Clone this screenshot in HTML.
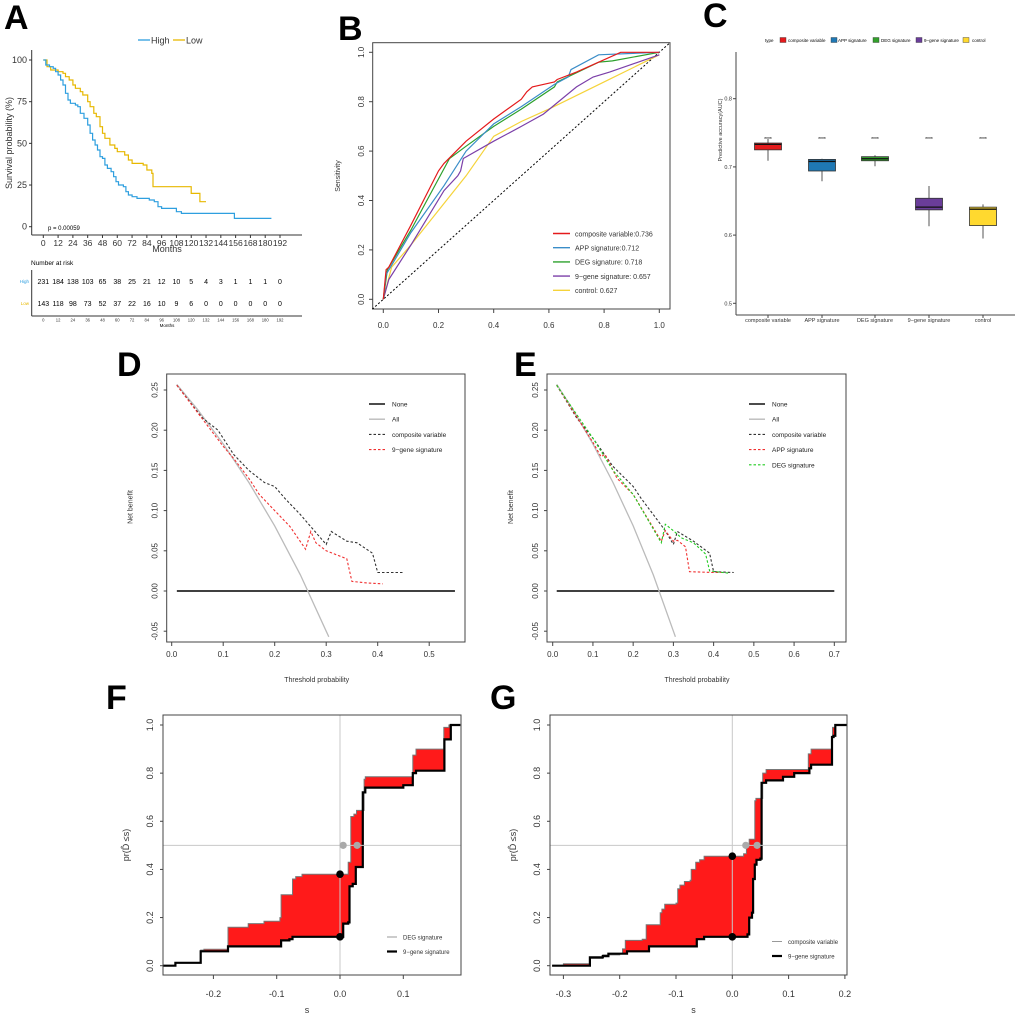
<!DOCTYPE html>
<html><head><meta charset="utf-8"><style>
html,body{margin:0;padding:0;background:#fff}
svg{display:block;font-family:"Liberation Sans",Arial,sans-serif}
</style></head><body>
<svg id="fig" width="1020" height="1027" viewBox="0 0 1020 1027" xmlns="http://www.w3.org/2000/svg"></svg>
<script>
// ---------- DATA ----------
// Panel A KM
const kmHighT=[0,2,5,8,10,12,14,16,18,20,22,26,28,30,33,36,38,40,42,44,46,48,50,52,55,57,59,61,65,67,69,72,76,80,86,90,93,96,104,108,112,150,155,185];
const kmHighS=[100,97,96,95,93,91,88,85,80,76,74,73,72,68,65,61,56,52,49,46,42,41,37,35,33,30,27,25,24,21,19,18,17,17,16,15,12,11,11,9,8,8,5,5];
const kmLowT=[0,3,6,12,16,18,21,24,26,30,32,36,38,41,43,46,48,50,54,58,60,66,69,72,81,84,88,89,120,127,132];
const kmLowS=[100,96,94,93,92,90,88,85,83,81,79,75,72,68,66,60,56,53,49,47,45,43,40,38,37,34,32,24,20,15,15];
const riskTimes=[0,12,24,36,48,60,72,84,96,108,120,132,144,156,168,180,192];
const riskHigh=[231,184,138,103,65,38,25,21,12,10,5,4,3,1,1,1,0];
const riskLow=[143,118,98,73,52,37,22,16,10,9,6,0,0,0,0,0,0];
const kmYTicks=[0,25,50,75,100];
// Panel B ROC
const rocNames=["composite variable:0.736","APP signature:0.712","DEG signature: 0.718","9\u2212gene signature: 0.657","control: 0.627"];
const rocColors=["#e41a1c","#3a8dc8","#2ca02c","#7b3fa8","#f5d33a"];
const rocFpr=[
 [0,0.01,0.02,0.1,0.2,0.22,0.3,0.4,0.5,0.52,0.54,0.6,0.62,0.63,0.7,0.78,0.86,1],
 [0,0.01,0.1,0.22,0.3,0.4,0.5,0.62,0.67,0.68,0.78,1],
 [0,0.015,0.1,0.24,0.3,0.4,0.5,0.62,0.63,0.78,0.83,1],
 [0,0.02,0.1,0.22,0.27,0.28,0.29,0.4,0.5,0.58,0.7,0.76,0.82,1],
 [0,0.03,0.1,0.2,0.3,0.4,0.5,0.6,0.8,1]];
const rocTpr=[
 [0,0.12,0.13,0.3,0.52,0.55,0.64,0.73,0.81,0.84,0.86,0.875,0.88,0.89,0.92,0.96,1,1],
 [0,0.1,0.27,0.46,0.6,0.71,0.78,0.87,0.9,0.93,0.99,1],
 [0,0.12,0.28,0.57,0.62,0.7,0.77,0.86,0.88,0.96,0.965,1],
 [0,0.08,0.22,0.44,0.5,0.52,0.57,0.64,0.7,0.75,0.86,0.9,0.92,0.99],
 [0,0.13,0.22,0.36,0.5,0.66,0.72,0.77,0.88,0.99]];
const rocTicks=[0,0.2,0.4,0.6,0.8,1.0];
// Panel C boxplots
const boxCats=["composite variable","APP signature","DEG signature","9\u2212gene signature","control"];
const boxColors=["#e41a1c","#1f78b4","#33a02c","#6a3d9a","#ffd92f"];
const boxMin=[0.709,0.679,0.701,0.613,0.595];
const boxQ1=[0.725,0.694,0.709,0.637,0.614];
const boxMed=[0.733,0.708,0.712,0.641,0.638];
const boxQ3=[0.735,0.711,0.715,0.654,0.641];
const boxMax=[0.741,0.712,0.717,0.672,0.645];
const boxYTicks=[0.5,0.6,0.7,0.8];
// Panel D DCA
const dAllT=[0.01,0.05,0.1,0.15,0.2,0.25,0.3,0.305];
const dAllNB=[0.257,0.226,0.183,0.135,0.081,0.02,-0.05,-0.057];
const dCompT=[0.01,0.06,0.09,0.12,0.15,0.18,0.2,0.22,0.25,0.27,0.3,0.31,0.34,0.36,0.39,0.4,0.45];
const dCompNB=[0.256,0.215,0.2,0.17,0.15,0.135,0.13,0.115,0.095,0.08,0.058,0.074,0.062,0.06,0.047,0.023,0.023];
const d9T=[0.01,0.1,0.12,0.15,0.17,0.2,0.23,0.26,0.27,0.28,0.3,0.34,0.35,0.38,0.41];
const d9NB=[0.256,0.18,0.165,0.14,0.12,0.1,0.08,0.052,0.074,0.06,0.05,0.04,0.012,0.01,0.009];
// Panel E DCA
const eCompT=[0.01,0.06,0.1,0.15,0.2,0.22,0.25,0.28,0.3,0.31,0.35,0.39,0.4,0.45];
const eCompNB=[0.256,0.215,0.19,0.155,0.13,0.115,0.095,0.075,0.058,0.074,0.062,0.047,0.024,0.023];
const eAppT=[0.01,0.1,0.12,0.13,0.16,0.2,0.27,0.28,0.3,0.31,0.33,0.34,0.4,0.42];
const eAppNB=[0.256,0.185,0.167,0.17,0.14,0.12,0.062,0.075,0.062,0.063,0.055,0.024,0.023,0.023];
const eDegT=[0.01,0.1,0.15,0.2,0.27,0.28,0.3,0.32,0.35,0.38,0.39,0.44];
const eDegNB=[0.256,0.19,0.15,0.12,0.06,0.083,0.075,0.066,0.06,0.046,0.025,0.022];
const dcaYTicks=[-0.05,0,0.05,0.1,0.15,0.2,0.25];
const dXTicks=[0,0.1,0.2,0.3,0.4,0.5];
const eXTicks=[0,0.1,0.2,0.3,0.4,0.5,0.6,0.7];
// Panel F ECDFs
const fUpX=[-0.28,-0.26,-0.22,-0.215,-0.177,-0.145,-0.12,-0.095,-0.093,-0.075,-0.07,-0.06,0.013,0.017,0.022,0.026,0.038,0.04,0.115,0.12,0.164,0.172,0.19];
const fUpY=[0,0.012,0.065,0.068,0.16,0.175,0.185,0.2,0.295,0.36,0.37,0.38,0.43,0.62,0.63,0.645,0.775,0.785,0.875,0.9,0.99,1.0,1.0];
const fLoX=[-0.28,-0.26,-0.22,-0.177,-0.093,-0.08,-0.075,0.005,0.013,0.015,0.02,0.025,0.036,0.04,0.1,0.115,0.12,0.165,0.175,0.19];
const fLoY=[0,0.012,0.06,0.08,0.105,0.11,0.12,0.175,0.18,0.33,0.34,0.41,0.72,0.74,0.75,0.8,0.81,0.94,1.0,1.0];
const fMedX=[0.005,0.027];
const fXTicks=[-0.2,-0.1,0,0.1];
// Panel G ECDFs
const gUpX=[-0.32,-0.3,-0.255,-0.253,-0.23,-0.2,-0.195,-0.19,-0.16,-0.153,-0.128,-0.125,-0.12,-0.1,-0.097,-0.093,-0.085,-0.075,-0.073,-0.065,-0.058,-0.05,0.01,0.02,0.025,0.03,0.04,0.042,0.054,0.06,0.135,0.14,0.178,0.183,0.205];
const gUpY=[0,0.008,0.008,0.03,0.045,0.05,0.07,0.105,0.11,0.17,0.22,0.235,0.255,0.26,0.32,0.335,0.35,0.355,0.4,0.43,0.44,0.455,0.455,0.465,0.5,0.525,0.685,0.695,0.8,0.815,0.88,0.9,0.99,1,1];
const gLoX=[-0.32,-0.253,-0.23,-0.22,-0.187,-0.148,-0.063,-0.05,0.027,0.03,0.035,0.037,0.04,0.043,0.05,0.052,0.06,0.09,0.11,0.137,0.14,0.177,0.18,0.183,0.205];
const gLoY=[0,0.035,0.04,0.05,0.06,0.08,0.11,0.12,0.13,0.2,0.22,0.36,0.42,0.44,0.445,0.76,0.77,0.785,0.8,0.82,0.835,0.95,0.955,1,1];
const gMedX=[0.024,0.044];
const gXTicks=[-0.3,-0.2,-0.1,0,0.1,0.2];
const ecdfYTicks=[0,0.2,0.4,0.6,0.8,1.0];

// ---------- HELPERS ----------
const NS="http://www.w3.org/2000/svg";
const svg=document.getElementById('fig');
function mk(tag,attrs,name,parent){
  const el=document.createElementNS(NS,tag);
  for(const k in attrs) el.setAttribute(k,attrs[k]);
  
  
  (parent||svg).appendChild(el);return el;
}
function txt(x,y,s,size,name,o){
  o=o||{};
  const a={x:x,y:y,'font-size':size,fill:o.fill||'#000','text-anchor':o.anchor||'middle'};
  if(o.weight)a['font-weight']=o.weight;
  if(o.rot!==undefined)a.transform='rotate('+o.rot+' '+x+' '+y+')';
  const t=mk('text',a,name);t.textContent=s;return t;
}
function lin(d0,d1,r0,r1){return v=>r0+(v-d0)*(r1-r0)/(d1-d0);}
function line(x1,y1,x2,y2,stroke,w,name,dash){
  const a={x1:x1,y1:y1,x2:x2,y2:y2,stroke:stroke,'stroke-width':w};
  if(dash)a['stroke-dasharray']=dash;
  return mk('line',a,name);
}
function polyPts(xs,ys,sx,sy){return xs.map((v,i)=>sx(v).toFixed(1)+','+sy(ys[i]).toFixed(1)).join(' ');}
function stepPts(xs,ys,sx,sy){const p=[[sx(xs[0]),sy(ys[0])]];for(let i=1;i<xs.length;i++){p.push([sx(xs[i]),sy(ys[i-1])]);p.push([sx(xs[i]),sy(ys[i])]);}return p;}
function ptsStr(p){return p.map(q=>q[0].toFixed(1)+','+q[1].toFixed(1)).join(' ');}
function letter(x,y,s){txt(x,y,s,34,'panel-label-'+s.toLowerCase(),{anchor:'start',weight:'bold'});}

// ---------- PANEL A ----------
letter(4,29,'A');
(function(){
 const sx=lin(0,192,43.3,280), sy=lin(0,100,226.7,60);
 line(31.7,50,31.7,235,'#333',1,'km-y-axis');
 line(31.7,235,302,235,'#333',1,'km-x-axis');
 kmYTicks.forEach(v=>{line(29,sy(v),31.7,sy(v),'#333',1,'km-y-tick');txt(27,sy(v)+3,String(v),9,'km-y-tick-label',{anchor:'end',fill:'#333'});});
 riskTimes.forEach(v=>{line(sx(v),235,sx(v),238,'#333',1,'km-x-tick');txt(sx(v),246,String(v),8.5,'km-x-tick-label',{fill:'#333'});});
 txt(167,252,'Months',9,'km-x-axis-title',{fill:'#333'});
 txt(12,143,'Survival probability (%)',9,'km-y-axis-title',{rot:-90,fill:'#333'});
 mk('polyline',{points:ptsStr(stepPts(kmLowT,kmLowS,sx,sy)),fill:'none',stroke:'#e7b800','stroke-width':1.2},'km-curve-low');
 mk('polyline',{points:ptsStr(stepPts(kmHighT,kmHighS,sx,sy)),fill:'none',stroke:'#2e9fdf','stroke-width':1.2},'km-curve-high');
 txt(48,230,'p = 0.00059',6,'km-p-value',{anchor:'start'});
 line(138,40,150,40,'#2e9fdf',1.3,'legend-high-line');
 txt(151,43.5,'High',9,'legend-high-label',{anchor:'start',fill:'#333'});
 line(173,40,185,40,'#e7b800',1.3,'legend-low-line');
 txt(186,43.5,'Low',9,'legend-low-label',{anchor:'start',fill:'#333'});
 txt(31,265,'Number at risk',6.5,'risk-table-title',{anchor:'start'});
 line(31.7,270,31.7,316,'#333',1,'risk-table-y-axis');
 line(31.7,316,302,316,'#333',1,'risk-table-x-axis');
 txt(29,283,'High',4.5,'risk-row-label-high',{anchor:'end',fill:'#2e9fdf'});
 txt(29,305,'Low',4.5,'risk-row-label-low',{anchor:'end',fill:'#e7b800'});
 riskTimes.forEach((t,i)=>{
  txt(sx(t),284,String(riskHigh[i]),7,'risk-high-count');
  txt(sx(t),306,String(riskLow[i]),7,'risk-low-count');
  txt(sx(t),321.5,String(t),4.2,'risk-x-tick-label',{fill:'#333'});
 });
 txt(167,327,'Months',4.5,'risk-x-axis-title');
})();

// ---------- PANEL B ----------
letter(338,40,'B');
(function(){
 const sx=lin(0,1,383.3,659.3), sy=lin(0,1,299.3,52.3);
 mk('rect',{x:372.7,y:42.7,width:297.3,height:266.3,fill:'none',stroke:'#444','stroke-width':1},'roc-plot-box');
 rocTicks.forEach(v=>{
  line(sx(v),309,sx(v),313,'#444',1,'roc-x-tick');txt(sx(v),328,v.toFixed(1),8,'roc-x-tick-label',{fill:'#333'});
  line(369,sy(v),372.7,sy(v),'#444',1,'roc-y-tick');txt(364,sy(v),v.toFixed(1),8,'roc-y-tick-label',{rot:-90,fill:'#333'});
 });
 txt(340,176,'Sensitivity',7,'roc-y-axis-title',{rot:-90,fill:'#333'});
 line(sx(-0.04),sy(-0.04),sx(1.04),sy(1.04),'#000',1,'roc-diagonal','2,2');
 for(let s=4;s>=0;s--){
  mk('polyline',{points:polyPts(rocFpr[s],rocTpr[s],sx,sy),fill:'none',stroke:rocColors[s],'stroke-width':1.2},'roc-curve-'+s);
 }
 rocNames.forEach((n,i)=>{
  const y=233.5+i*14.2;
  line(553,y,570,y,rocColors[i],1.4,'roc-legend-line');
  txt(575,y+2.8,n,7,'roc-legend-label',{anchor:'start',fill:'#333'});
 });
})();

// ---------- PANEL C ----------
letter(703,27,'C');
(function(){
 const sy=lin(0.5,0.8,303.3,98.7);
 const cx=[768,822,875,929,983];
 line(736,52,736,315,'#444',1,'box-y-axis');
 line(736,315,1015,315,'#444',1,'box-x-axis');
 boxYTicks.forEach(v=>{line(733,sy(v),736,sy(v),'#444',1,'box-y-tick');txt(732,sy(v)+2,v.toFixed(1),5.5,'box-y-tick-label',{anchor:'end',fill:'#333'});});
 txt(722,130,'Predictive accuracy(AUC)',5.5,'box-y-axis-title',{rot:-90,fill:'#333'});
 boxCats.forEach((c,i)=>{
  const x=cx[i],w=27;
  line(x,315,x,318,'#444',1,'box-x-tick');
  txt(x,322,c,5.5,'box-x-tick-label',{fill:'#333'});
  line(x,sy(boxMin[i]),x,sy(boxMax[i]),'#555',1,'box-whisker-'+i);
  mk('rect',{x:x-w/2,y:sy(boxQ3[i]),width:w,height:Math.max(1,sy(boxQ1[i])-sy(boxQ3[i])),fill:boxColors[i],stroke:'#333','stroke-width':0.8},'box-'+i);
  line(x-w/2,sy(boxMed[i]),x+w/2,sy(boxMed[i]),'#111',1.3,'box-median-'+i);
  txt(x,sy(0.741)+2,'****',5,'box-significance-'+i);
 });
 txt(765,42,'type',4.5,'box-legend-title',{anchor:'start'});
 const lk=[780,831,873,916,963], lt=[788,838,881,924,972];
 boxCats.forEach((c,i)=>{
  mk('rect',{x:lk[i],y:37.5,width:6,height:5,fill:boxColors[i],stroke:'#333','stroke-width':0.4},'box-legend-key-'+i);
  txt(lt[i],42,c,4.5,'box-legend-label-'+i,{anchor:'start'});
 });
})();

// ---------- DCA helper ----------
function dca(px,x0,x1,xTicks,curves,legendX,legendTextX){
 const sx=lin(0,xTicks[1]*10>0?0.1:0.1,x0,x0+x1);
 return sx;
}
function drawDCA(p){
 const sx=lin(0,0.1,p.x0,p.x0+p.per), sy=lin(0,0.25,591,390);
 mk('rect',{x:p.bx,y:374,width:p.bw,height:268,fill:'none',stroke:'#444','stroke-width':1},p.id+'-plot-box');
 p.xTicks.forEach(v=>{line(sx(v),642,sx(v),646,'#444',1,p.id+'-x-tick');txt(sx(v),657,v.toFixed(1),8,p.id+'-x-tick-label',{fill:'#333'});});
 dcaYTicks.forEach(v=>{line(p.bx-3,sy(v),p.bx,sy(v),'#444',1,p.id+'-y-tick');txt(p.bx-9,sy(v),v.toFixed(2),8,p.id+'-y-tick-label',{rot:-90,fill:'#333'});});
 txt(p.bx+150,682,'Threshold probability',7,p.id+'-x-axis-title',{fill:'#333'});
 txt(p.bx-34,507,'Net benefit',7,p.id+'-y-axis-title',{rot:-90,fill:'#333'});
 line(sx(0.01),sy(0),sx(p.xmax),sy(0),'#000',1.6,p.id+'-none-line');
 mk('polyline',{points:polyPts(dAllT,dAllNB,sx,sy),fill:'none',stroke:'#bbb','stroke-width':1.3},p.id+'-all-line');
 p.curves.forEach(c=>mk('polyline',{points:polyPts(c.t,c.nb,sx,sy),fill:'none',stroke:c.col,'stroke-width':1.1,'stroke-dasharray':'2.5,2'},p.id+'-curve-'+c.key));
 const ent=[['None','#000',''],['All','#bbb','']].concat(p.curves.map(c=>[c.label,c.col,'2.5,2']));
 ent.forEach((e,i)=>{
  const y=404+i*15.2;
  line(p.lx,y,p.lx+16,y,e[1],e[2]?1.1:1.4,p.id+'-legend-line',e[2]||null);
  txt(p.lx+23,y+2.5,e[0],6.5,p.id+'-legend-label',{anchor:'start',fill:'#222'});
 });
}
letter(117,376,'D');
drawDCA({id:'dca-d',x0:171.7,per:51.5,bx:166.7,bw:298.3,xTicks:dXTicks,xmax:0.55,lx:369,
 curves:[{key:'composite',label:'composite variable',col:'#333',t:dCompT,nb:dCompNB},{key:'9gene',label:'9\u2212gene signature',col:'#f03030',t:d9T,nb:d9NB}]});
letter(514,376,'E');
drawDCA({id:'dca-e',x0:552.7,per:40.23,bx:547,bw:299,xTicks:eXTicks,xmax:0.7,lx:749,
 curves:[{key:'composite',label:'composite variable',col:'#333',t:eCompT,nb:eCompNB},{key:'app',label:'APP signature',col:'#f03030',t:eAppT,nb:eAppNB},{key:'deg',label:'DEG signature',col:'#22cc22',t:eDegT,nb:eDegNB}]});

// ---------- ECDF helper ----------
function drawECDF(p){
 const sx=lin(0,0.1,p.x0,p.x0+p.per), sy=lin(0,1,965.7,725);
 const clip=mk('clipPath',{id:p.id+'-clip'},p.id+'-clip');
 mk('rect',{x:p.bx,y:715,width:p.bw,height:260},p.id+'-clip-rect',clip);
 const g=mk('g',{'clip-path':'url(#'+p.id+'-clip)'},p.id+'-plot-area');
 const up=stepPts(p.upX,p.upY,sx,sy), lo=stepPts(p.loX,p.loY,sx,sy);
 mk('polygon',{points:ptsStr(up.concat(lo.slice().reverse())),fill:'#ff1a1a',stroke:'none'},p.id+'-difference-fill',g);
 line(p.bx,sy(0.5),p.bx+p.bw,sy(0.5),'#c8c8c8',1,p.id+'-median-hline');
 line(sx(0),715,sx(0),975,'#c8c8c8',1,p.id+'-zero-vline');
 mk('polyline',{points:ptsStr(up),fill:'none',stroke:'#777','stroke-width':1},p.id+'-ecdf-upper',g);
 mk('polyline',{points:ptsStr(lo),fill:'none',stroke:'#000','stroke-width':2.2},p.id+'-ecdf-lower',g);
 mk('rect',{x:p.bx,y:715,width:p.bw,height:260,fill:'none',stroke:'#444','stroke-width':1},p.id+'-plot-box');
 p.medX.forEach(m=>mk('circle',{cx:sx(m),cy:sy(0.5),r:3.6,fill:'#aaa'},p.id+'-median-point'));
 mk('circle',{cx:sx(0),cy:sy(p.dot0Up),r:3.8,fill:'#000'},p.id+'-zero-point-upper');
 mk('circle',{cx:sx(0),cy:sy(p.dot0Lo),r:3.8,fill:'#000'},p.id+'-zero-point-lower');
 p.xTicks.forEach(v=>{line(sx(v),975,sx(v),979,'#444',1,p.id+'-x-tick');txt(sx(v),997,v.toFixed(1),9,p.id+'-x-tick-label',{fill:'#333'});});
 ecdfYTicks.forEach(v=>{line(p.bx-3,sy(v),p.bx,sy(v),'#444',1,p.id+'-y-tick');txt(p.bx-10,sy(v),v.toFixed(1),9,p.id+'-y-tick-label',{rot:-90,fill:'#333'});});
 txt(p.bx+p.bw/2-5,1013,'s',9,p.id+'-x-axis-title',{fill:'#333'});
 txt(p.bx-34,845,'pr(D\u0302 \u2264s)',9,p.id+'-y-axis-title',{rot:-90,fill:'#333'});
 line(p.lx,p.ly,p.lx+10,p.ly,'#999',1,p.id+'-legend-line-upper');
 txt(p.lx+16,p.ly+2.3,p.upLabel,6,p.id+'-legend-label-upper',{anchor:'start',fill:'#333'});
 line(p.lx,p.ly+14.5,p.lx+10,p.ly+14.5,'#000',2.2,p.id+'-legend-line-lower');
 txt(p.lx+16,p.ly+16.8,'9\u2212gene signature',6,p.id+'-legend-label-lower',{anchor:'start',fill:'#333'});
}
letter(106,709,'F');
drawECDF({id:'ecdf-f',x0:340,per:63.3,bx:163,bw:298,upX:fUpX,upY:fUpY,loX:fLoX,loY:fLoY,medX:fMedX,dot0Up:0.38,dot0Lo:0.12,xTicks:fXTicks,lx:387,ly:937,upLabel:'DEG signature'});
letter(490,709,'G');
drawECDF({id:'ecdf-g',x0:732.3,per:56.3,bx:550,bw:297,upX:gUpX,upY:gUpY,loX:gLoX,loY:gLoY,medX:gMedX,dot0Up:0.455,dot0Lo:0.12,xTicks:gXTicks,lx:772,ly:941.5,upLabel:'composite variable'});
</script>
</body></html>
